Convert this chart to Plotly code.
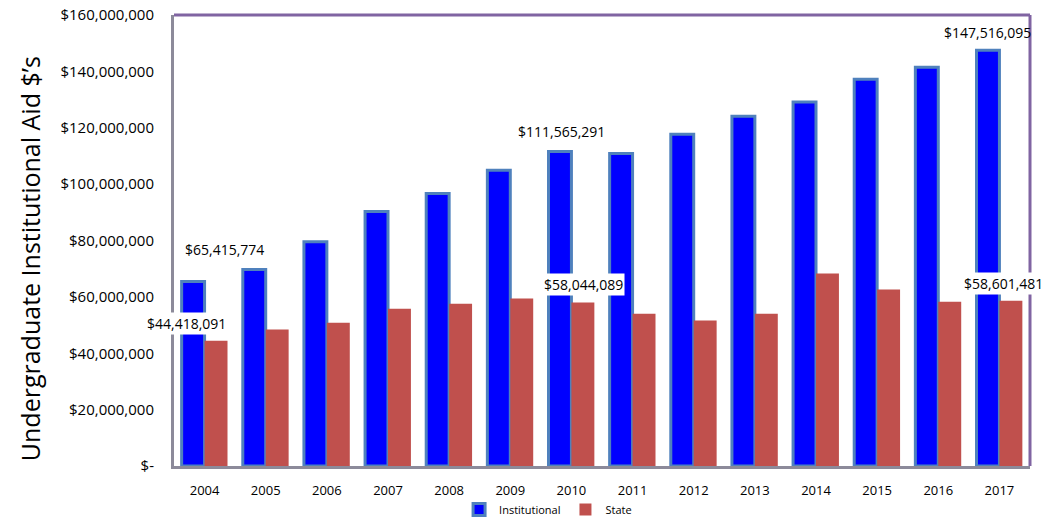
import plotly.graph_objects as go

years = ["2004", "2005", "2006", "2007", "2008", "2009", "2010",
         "2011", "2012", "2013", "2014", "2015", "2016", "2017"]
institutional = [65415774, 69700000, 79600000, 90300000, 96700000, 104900000, 111565291,
                 110900000, 117700000, 124100000, 129100000, 137200000, 141500000, 147516095]
state = [44418091, 48400000, 50800000, 55800000, 57600000, 59400000, 58044089,
         54000000, 51600000, 54000000, 68300000, 62600000, 58300000, 58601481]

tick_vals = [0, 20e6, 40e6, 60e6, 80e6, 100e6, 120e6, 140e6, 160e6]
tick_text = ["$-", "$20,000,000", "$40,000,000", "$60,000,000", "$80,000,000",
             "$100,000,000", "$120,000,000", "$140,000,000", "$160,000,000"]

FONT = "Open Sans"

fig = go.Figure()
fig.add_trace(go.Bar(x=years, y=institutional, name="Institutional",
                     marker=dict(color="#0000ff", line=dict(color="#4f81bd", width=3))))
fig.add_trace(go.Bar(x=years, y=state, name="State",
                     marker=dict(color="#c0504d", line=dict(color="#c0504d", width=0))))

def fmt(v):
    return "${:,}".format(v)

lf = dict(size=14, color="black", family=FONT)
# (category index, value, xshift, yshift, background)
labels = [
    (0, institutional[0], 20, 32, None),
    (0, state[0], -18, 17, "white"),
    (6, institutional[6], -10, 20, None),
    (6, state[6], 12, 18, "white"),
    (13, institutional[13], -12, 18, None),
    (13, state[13], 4, 17, "white"),
]
ann = []
for i, v, xs, ys, bg in labels:
    d = dict(x=i, y=v, text=fmt(v), xshift=xs, yshift=ys, showarrow=False, font=lf)
    if bg:
        d["bgcolor"] = bg
    ann.append(d)

ann.append(dict(xref="paper", yref="paper", x=-0.168, y=0.459, xanchor="center",
                yanchor="middle", textangle=-90, showarrow=False,
                text="Undergraduate Institutional Aid $\u2019s",
                font=dict(size=25, family=FONT, color="black")))

fig.update_layout(
    width=1044, height=524,
    margin=dict(l=174, r=14, t=15, b=58, autoexpand=False),
    paper_bgcolor="white", plot_bgcolor="white",
    barmode="group", bargap=0.25, bargroupgap=0.0,
    font=dict(family=FONT, color="black"),
    showlegend=True,
    legend=dict(orientation="h", x=0.437, xanchor="center", yref="container", y=0.0,
                yanchor="bottom", font=dict(size=11, family=FONT), traceorder="normal",
                bgcolor="rgba(0,0,0,0)"),
    annotations=ann,
    shapes=[
        dict(type="line", xref="paper", yref="paper", x0=0, x1=1, y0=1, y1=1,
             line=dict(color="#8064a2", width=3)),
        dict(type="line", xref="paper", yref="paper", x0=1, x1=1, y0=0, y1=1,
             line=dict(color="#8064a2", width=3)),
    ],
)
fig.update_xaxes(type="category", range=[-0.5, len(years) - 0.5],
                 showline=True, linecolor="#8c8a9a", linewidth=3, ticks="",
                 tickfont=dict(size=13, family=FONT), showgrid=False, ticklabelstandoff=10,
                 automargin=False)
fig.update_yaxes(range=[0, 160e6], tickvals=tick_vals, ticktext=tick_text,
                 showline=True, linecolor="#8c8a9a", linewidth=3, ticks="",
                 showgrid=False, zeroline=False, tickfont=dict(size=15, family=FONT),
                 ticklabelstandoff=14, automargin=False)

fig.write_html("out.html")
